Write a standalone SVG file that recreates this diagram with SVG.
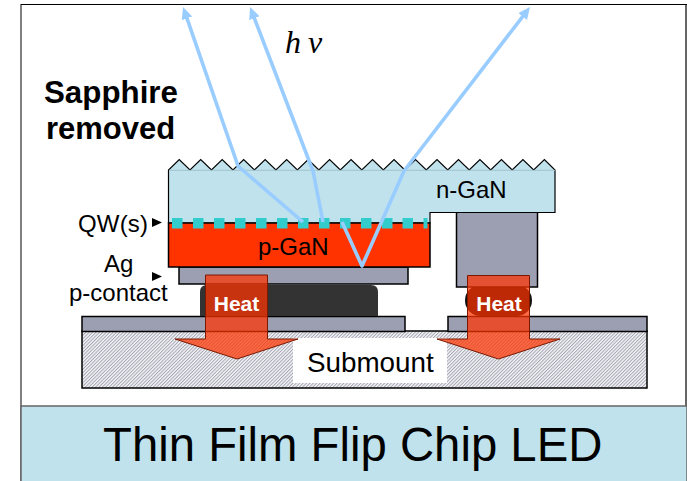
<svg xmlns="http://www.w3.org/2000/svg" width="687" height="481" viewBox="0 0 687 481">
<style>
.s{font-family:"Liberation Sans",Arial,sans-serif;fill:#000}
.m{stroke:#000;stroke-width:1.5;fill:#9c9fb2}
.h{font-family:"Liberation Sans",Arial,sans-serif;font-weight:bold;font-size:21px;fill:#fff;text-anchor:middle}
.a{fill:#ff3300;fill-opacity:.72;stroke:#7a1800;stroke-width:1}
.r{fill:none;stroke:#99ccff;stroke-width:3.600;stroke-linejoin:round}
.q{fill:#33cccc}
</style>
<defs>
<pattern id="hatch" width="2.400" height="2.400" patternUnits="userSpaceOnUse" patternTransform="rotate(-45)">
<rect width="2.400" height="2.400" fill="#f6f6f8"/><rect width="2.400" height="1" fill="#a2a4b2"/>
</pattern>
<marker id="ah" markerWidth="14" markerHeight="12" refX="6" refY="5.500" orient="auto" markerUnits="userSpaceOnUse"><path d="M0 0L12 5.500L0 11Z" fill="#99ccff"/></marker>
</defs>
<rect width="687" height="481" fill="#fff"/>
<g id="frame"><path d="M21 481V4" fill="none" stroke="#808080" stroke-width="2"/><path d="M686 481V4" fill="none" stroke="#666" stroke-width="2"/><path d="M21 4.500H687" fill="none" stroke="#000" stroke-width="1.200"/></g>
<g id="submount"><rect x="82" y="331" width="565" height="57" fill="url(#hatch)" stroke="#000" stroke-width="1.500"/>
<rect x="293" y="338" width="154" height="45" fill="#fff"/>
<text class="s" x="307" y="372" font-size="27.800">Submount</text></g>
<g id="pad-left"><rect class="m" x="82" y="316.500" width="323" height="15"/></g>
<g id="pad-right"><rect class="m" x="448" y="316.500" width="199" height="15"/></g>
<g id="solder-left"><path d="M200 316V292Q200 285 207 285H371Q378 285 378 292V316Z" fill="#333"/></g>
<g id="solder-right"><rect x="465" y="285" width="67" height="31" rx="15.500" fill="#111"/></g>
<g id="silver"><rect class="m" x="179" y="267" width="229" height="17"/></g>
<g id="n-column"><rect class="m" x="456.500" y="212" width="81" height="75"/></g>
<g id="n-gan">
<path d="M168.500 223V170L179.240 159.500L189.980 170L200.720 159.500L211.460 170L222.200 159.500L232.940 170L243.680 159.500L254.420 170L265.160 159.500L275.900 170L286.640 159.500L297.380 170L308.120 159.500L318.860 170L329.600 159.500L340.340 170L351.080 159.500L361.820 170L372.560 159.500L383.300 170L394.040 159.500L404.780 170L415.520 159.500L426.260 170L437 159.500L447.740 170L458.480 159.500L469.220 170L479.960 159.500L490.700 170L501.440 159.500L512.180 170L522.920 159.500L533.660 170L544.400 159.500L555 170V212.500H430V223Z" fill="#c0e2ec" stroke="#000" stroke-width="1.200"/>
<path d="M169 170.300H555" stroke="#9fc4ce" stroke-width="1"/>
<text class="s" x="436" y="198" font-size="24">n-GaN</text></g>
<g id="p-gan"><rect x="168.500" y="223" width="261.500" height="44" fill="#ff3300" stroke="#000" stroke-width="1.500"/>
<text class="s" x="258" y="254.500" font-size="24">p-GaN</text></g>
<g id="qw">
<rect class="q" x="172" y="218" width="10.500" height="10.500"/><rect class="q" x="193" y="218" width="10.500" height="10.500"/><rect class="q" x="214" y="218" width="10.500" height="10.500"/><rect class="q" x="235" y="218" width="10.500" height="10.500"/><rect class="q" x="256" y="218" width="10.500" height="10.500"/><rect class="q" x="277" y="218" width="10.500" height="10.500"/><rect class="q" x="298" y="218" width="10.500" height="10.500"/><rect class="q" x="319" y="218" width="10.500" height="10.500"/><rect class="q" x="340" y="218" width="10.500" height="10.500"/><rect class="q" x="361" y="218" width="10.500" height="10.500"/><rect class="q" x="382" y="218" width="10.500" height="10.500"/><rect class="q" x="402.500" y="218" width="10.500" height="10.500"/><rect class="q" x="423.500" y="218" width="4" height="10.500"/>
</g>
<g id="connectors">
<path class="r" d="M303 222L238 166L185 12.700" marker-end="url(#ah)"/>
<path class="r" d="M323 222L313 171L252.200 12.600" marker-end="url(#ah)"/>
<path class="r" d="M342 222L362 266L404 171L526.300 11.800" marker-end="url(#ah)"/>
</g>
<g id="heat-left">
<path class="a" d="M205.500 275H267.500V339H298L237 359L175 339H205.500Z"/>
<text class="h" x="236.500" y="311">Heat</text></g>
<g id="heat-right">
<path class="a" d="M467.500 275.500H529.500V339H560L498.500 359L437 339H467.500Z"/>
<text class="h" x="499" y="311">Heat</text></g>
<g id="labels">
<text class="s" font-weight="bold" font-size="31.300" x="44" y="103">Sapphire</text>
<text class="s" font-weight="bold" font-size="31" x="46" y="138.500">removed</text>
<text font-family="Liberation Serif,serif" font-style="italic" font-size="32" x="285 308" y="53">hν</text>
<text class="s" x="78" y="231.500" font-size="24" textLength="70">QW(s)</text>
<path d="M152 218L162 222.500L152 227Z"/>
<text class="s" x="104" y="271.500" font-size="24">Ag</text>
<text class="s" x="69" y="300.500" font-size="24">p-contact</text>
<path d="M152 272L162 276.500L152 281Z"/>
</g>
<g id="title"><rect x="21" y="406" width="666" height="80" fill="#c0e2ec" stroke="#666" stroke-width="1.500"/>
<text class="s" x="103" y="461" font-size="47.300">Thin Film Flip Chip LED</text></g>
</svg>
